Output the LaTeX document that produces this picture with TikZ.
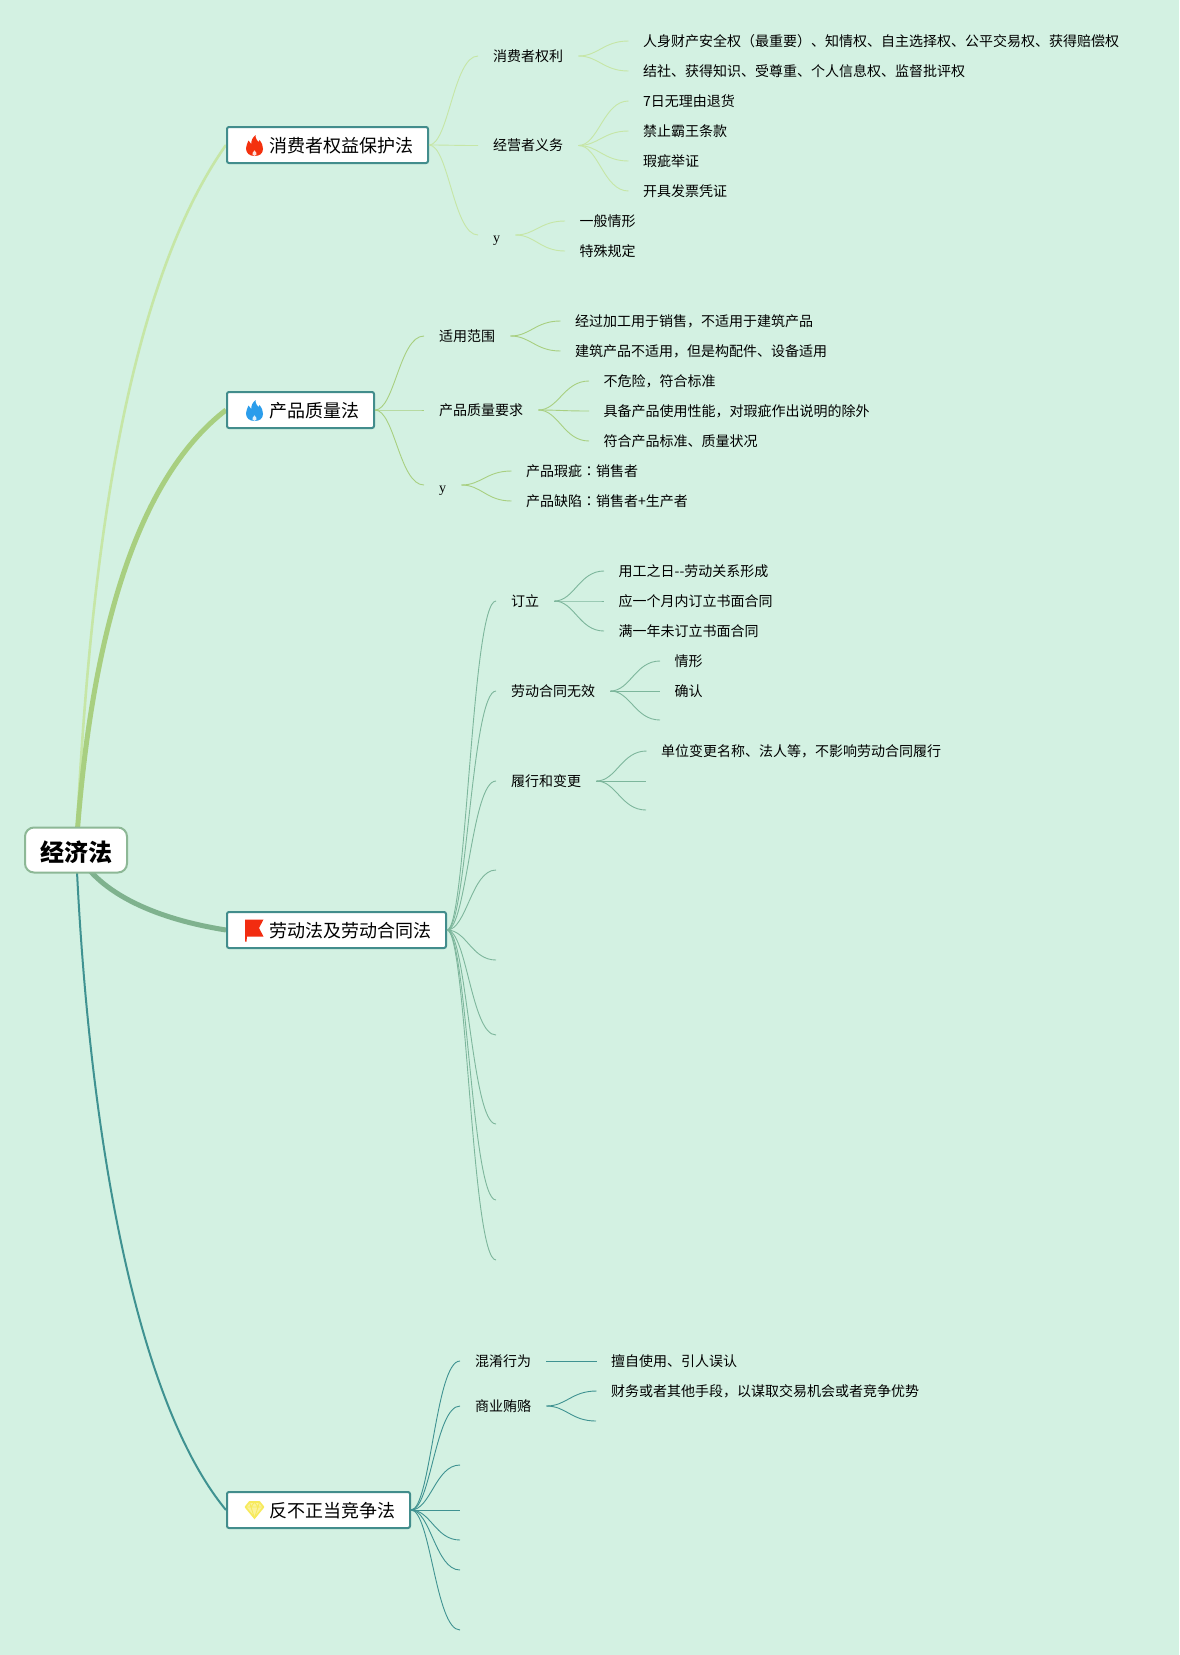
\documentclass[tikz,border=0pt]{standalone}
\usepackage{fontspec}
\usetikzlibrary{calc,backgrounds}
\setmainfont{Noto Sans CJK SC}
\newfontfamily\latinserif{Liberation Serif}
\newfontfamily\colonfont{Noto Sans CJK TC}
\definecolor{bgmint}{HTML}{D3F1E2}
\definecolor{boxteal}{HTML}{428D8C}
\definecolor{rootedge}{HTML}{8DB896}
\definecolor{lineone}{HTML}{C6E6A6}
\definecolor{linetwo}{HTML}{A8CF80}
\definecolor{linethree}{HTML}{7FB28E}
\definecolor{twigthree}{HTML}{7DB69C}
\definecolor{linefour}{HTML}{3F9291}
\definecolor{flamered}{HTML}{F4310E}
\definecolor{flameblue}{HTML}{2B9DEB}
\definecolor{flagred}{HTML}{F22C10}
\definecolor{gemedge}{HTML}{F7EA5B}
\definecolor{gemfill}{HTML}{FBF29A}
\tikzset{
  rootbox/.style={draw=rootedge,fill=white,line width=2pt,rounded corners=9pt,font=\bfseries\fontsize{24}{24}\selectfont,minimum width=102pt,minimum height=45pt,inner sep=0pt,text height=26pt,text depth=3.6pt},
  topicbox/.style={draw=boxteal,fill=white,line width=2pt,rounded corners=2pt,font=\fontsize{18}{24}\selectfont,anchor=west,minimum height=36pt,inner xsep=0pt,inner ysep=0pt,text height=18.5pt,text depth=2.8pt},
  subtext/.style={anchor=west,font=\fontsize{14}{16}\selectfont,inner xsep=15pt,inner ysep=0pt},
  leaftext/.style={subtext,inner xsep=14.5pt},
  ytext/.style={subtext,font=\latinserif\fontsize{14}{16}\selectfont,text height=17pt,text depth=2.6pt}
}
\def\flamepath{(0,10.5) .. controls (-5,10.5) and (-8.5,7.5) .. (-8.5,3) .. controls (-8.5,0) and (-7,-2) .. (-6,-5) .. controls (-5,-3) and (-4.2,-2.5) .. (-3.2,-1.5) .. controls (-3.5,-5) and (-1.5,-8.5) .. (1,-10.5) .. controls (1,-7) and (2.5,-5) .. (4,-3.5) .. controls (4.5,-4) and (4.8,-4.5) .. (5,-5.5) .. controls (7.5,-2.5) and (8.5,0.5) .. (8.5,3.5) .. controls (8.5,8) and (5,10.5) .. (0,10.5) -- cycle}
\def\flamecore{(0,10.5) .. controls (-3,10.5) and (-3.5,7.5) .. (-2.5,6) .. controls (-1.5,4.5) and (-0.5,4) .. (0,2.5) .. controls (0.5,4) and (1.5,4.5) .. (2.5,6) .. controls (3.5,7.5) and (3,10.5) .. (0,10.5) -- cycle}
\newcommand{\lawtext}[1]{\hspace*{42.5pt}#1\hspace*{14.5pt}}
% one curved branch, from the parent's end to the child's start
\newcommand{\branch}[3]{\draw[#1,line width=0.9pt] let \p1=(#2), \p2=(#3) in (\p1) .. controls ({\x1+0.4*(\x2-\x1)},\y1) and ({\x1+0.5*(\x2-\x1)},\y2) .. (\p2);}
\begin{document}
\begin{tikzpicture}[x=1pt,y=-1pt]
  \useasboundingbox (0,0) rectangle (1179,1655);

  \node[rootbox] (root) at (76,850) {经济法};
  \node[topicbox] (law1) at (226,145) {\lawtext{消费者权益保护法}};
  \node[topicbox] (law2) at (226,410) {\lawtext{产品质量法}};
  \node[topicbox] (law3) at (226,930) {\lawtext{劳动法及劳动合同法}};
  \node[topicbox] (law4) at (226,1510) {\lawtext{反不正当竞争法}};

  % main curves
  \begin{scope}[on background layer]
    \fill[bgmint] (0,0) rectangle (1179,1655);
    \draw[lineone,line width=2.6pt] (root.center) .. controls (88,590) and (120,295) .. (law1.west);
    \draw[linetwo,line width=5pt] (root.center) .. controls (90,640) and (135,480) .. (law2.west);
    \draw[linethree,line width=5pt] (root.center) .. controls (95,890) and (150,918) .. (law3.west);
    \draw[linefour,line width=2pt] (root.center) .. controls (88,1130) and (135,1400) .. (law4.west);
  \end{scope}

  % icons
  \fill[flamered,shift={(254.5,145.5)}] \flamepath;
  \fill[white,opacity=0.85,shift={(254.5,148.5)},scale=0.7] \flamecore;
  \fill[flameblue,shift={(254.5,410.5)}] \flamepath;
  \fill[white,opacity=0.85,shift={(254.5,413.5)},scale=0.7] \flamecore;
  \fill[flagred] (245,919.5) -- (263.5,919.5) -- (259,928) -- (263.5,936.5) -- (247,936.5) -- (246.5,941.5) -- (245,941.5) -- cycle;
  \draw[gemedge,line width=1.6pt,line join=round,fill=gemfill] (249.5,1502) -- (259.5,1502) -- (263.5,1507) -- (254.5,1518) -- (245.5,1507) -- cycle;
  \draw[gemedge,line width=0.9pt] (245.5,1507) -- (263.5,1507) (251,1507) -- (254.5,1518) -- (258,1507) (249.5,1502) -- (251,1507) -- (254.5,1502) -- (258,1507) -- (259.5,1502);

  % law one
  \node[subtext] (rights) at (478,56) {消费者权利};
  \node[subtext] (duties) at (478,145.5) {经营者义务};
  \node[ytext] (yone) at (478,235) {y};
  \node[leaftext] (r1) at (628.5,41) {人身财产安全权（最重要）、知情权、自主选择权、公平交易权、获得赔偿权};
  \node[leaftext] (r2) at (628.5,71) {结社、获得知识、受尊重、个人信息权、监督批评权};
  \node[leaftext] (d1) at (628.5,101) {7日无理由退货};
  \node[leaftext] (d2) at (628.5,131) {禁止霸王条款};
  \node[leaftext] (d3) at (628.5,161) {瑕疵举证};
  \node[leaftext] (d4) at (628.5,191) {开具发票凭证};
  \node[leaftext] (y1) at (565,221) {一般情形};
  \node[leaftext] (y2) at (565,251) {特殊规定};
  \foreach \kid in {rights,duties,yone} \branch{lineone}{law1.east}{\kid.west};
  \foreach \kid in {r1,r2} \branch{lineone}{rights.east}{\kid.west};
  \foreach \kid in {d1,d2,d3,d4} \branch{lineone}{duties.east}{\kid.west};
  \foreach \kid in {y1,y2} \branch{lineone}{yone.east}{\kid.west};

  % law two
  \node[subtext] (scope) at (424,336) {适用范围};
  \node[subtext] (needs) at (424,410) {产品质量要求};
  \node[ytext] (ytwo) at (424,485) {y};
  \node[leaftext] (s1) at (560.5,321) {经过加工用于销售，不适用于建筑产品};
  \node[leaftext] (s2) at (560.5,351) {建筑产品不适用，但是构配件、设备适用};
  \node[leaftext] (n1) at (589,381) {不危险，符合标准};
  \node[leaftext] (n2) at (589,411) {具备产品使用性能，对瑕疵作出说明的除外};
  \node[leaftext] (n3) at (589,441) {符合产品标准、质量状况};
  \node[leaftext] (t1) at (511.5,471) {产品瑕疵{\colonfont ：}销售者};
  \node[leaftext] (t2) at (511.5,501) {产品缺陷{\colonfont ：}销售者+生产者};
  \foreach \kid in {scope,needs,ytwo} \branch{linetwo}{law2.east}{\kid.west};
  \foreach \kid in {s1,s2} \branch{linetwo}{scope.east}{\kid.west};
  \foreach \kid in {n1,n2,n3} \branch{linetwo}{needs.east}{\kid.west};
  \foreach \kid in {t1,t2} \branch{linetwo}{ytwo.east}{\kid.west};

  % law three
  \node[subtext] (sign) at (496,601) {订立};
  \node[subtext] (void) at (496,691) {劳动合同无效};
  \node[subtext] (perform) at (496,781) {履行和变更};
  \node[leaftext] (g1) at (604,571) {用工之日{-}{-}劳动关系形成};
  \node[leaftext] (g2) at (604,601) {应一个月内订立书面合同};
  \node[leaftext] (g3) at (604,631) {满一年未订立书面合同};
  \node[leaftext] (v1) at (660,661) {情形};
  \node[leaftext] (v2) at (660,691) {确认};
  \coordinate (v3) at (660,720);
  \node[leaftext] (p1) at (646.5,751) {单位变更名称、法人等，不影响劳动合同履行};
  \coordinate (p2) at (646,781);
  \coordinate (p3) at (646,810);
  \coordinate (e1) at (496,870);
  \coordinate (e2) at (496,960);
  \coordinate (e3) at (496,1035);
  \coordinate (e4) at (496,1124);
  \coordinate (e5) at (496,1200);
  \coordinate (e6) at (496,1260);
  \foreach \kid in {sign.west,void.west,perform.west,e1,e2,e3,e4,e5,e6} \branch{twigthree}{law3.east}{\kid};
  \foreach \kid in {g1,g2,g3} \branch{twigthree}{sign.east}{\kid.west};
  \foreach \kid in {v1.west,v2.west,v3} \branch{twigthree}{void.east}{\kid};
  \foreach \kid in {p1.west,p2,p3} \branch{twigthree}{perform.east}{\kid};

  % law four
  \node[subtext] (mix) at (460,1361) {混淆行为};
  \node[subtext] (bribe) at (460,1406) {商业贿赂};
  \node[leaftext] (m1) at (596.5,1361) {擅自使用、引人误认};
  \node[leaftext] (b1) at (596.5,1391) {财务或者其他手段，以谋取交易机会或者竞争优势};
  \coordinate (b2) at (596,1421);
  \coordinate (f1) at (460,1465);
  \coordinate (f2) at (460,1510);
  \coordinate (f3) at (460,1540);
  \coordinate (f4) at (460,1570);
  \coordinate (f5) at (460,1630);
  \foreach \kid in {mix.west,bribe.west,f1,f2,f3,f4,f5} \branch{linefour}{law4.east}{\kid};
  \draw[linefour,line width=0.9pt] (mix.east) -- (m1.west);
  \foreach \kid in {b1.west,b2} \branch{linefour}{bribe.east}{\kid};
\end{tikzpicture}
\end{document}
